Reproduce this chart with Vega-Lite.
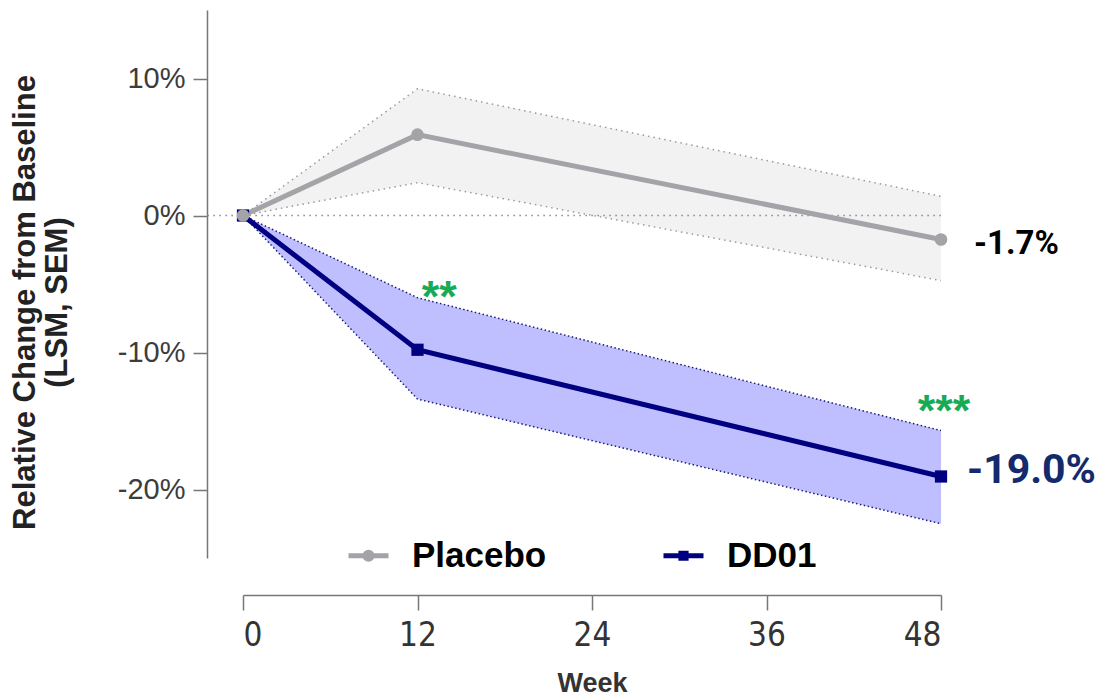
{
  "$schema": "https://vega.github.io/schema/vega-lite/v6.json",
  "width": 698,
  "height": 548,
  "autosize": "none",
  "padding": {"left": 243, "top": 10, "right": 160, "bottom": 141},
  "background": "white",
  "config": {
    "view": {"stroke": null},
    "font": "Liberation Sans",
    "axisX": {
      "offset": 37,
      "domainColor": "#777777",
      "domainWidth": 1.5,
      "tickColor": "#777777",
      "tickWidth": 1.5,
      "tickSize": 15,
      "labelPadding": 9,
      "labelFont": "DejaVu Sans Condensed, Liberation Sans",
      "labelFontSize": 33,
      "labelColor": "#333333",
      "grid": false,
      "titleFont": "Liberation Sans",
      "titleFontSize": 27,
      "titleFontWeight": "bold",
      "titleColor": "#333333",
      "titlePadding": 18
    },
    "axisY": {
      "offset": 36,
      "domainColor": "#777777",
      "domainWidth": 1.5,
      "tickColor": "#777777",
      "tickWidth": 1.5,
      "tickSize": 14,
      "labelPadding": 8,
      "labelFont": "Liberation Sans",
      "labelFontSize": 29,
      "labelColor": "#3c3c3c",
      "grid": false,
      "titleFont": "Liberation Sans",
      "titleFontSize": 31,
      "titleFontWeight": "bold",
      "titleColor": "#222222",
      "titleLineHeight": 32,
      "titlePadding": 44,
      "titleY": 292
    }
  },
  "datasets": {
    "series": [
      {"group": "DD01", "week": 0, "mean": 0, "lo": 0, "hi": 0},
      {"group": "DD01", "week": 12, "mean": -9.8, "lo": -13.4, "hi": -6.0},
      {"group": "DD01", "week": 48, "mean": -19.05, "lo": -22.5, "hi": -15.7},
      {"group": "Placebo", "week": 0, "mean": 0, "lo": 0, "hi": 0},
      {"group": "Placebo", "week": 12, "mean": 5.9, "lo": 2.4, "hi": 9.25},
      {"group": "Placebo", "week": 48, "mean": -1.75, "lo": -4.75, "hi": 1.4}
    ],
    "zero": [{"from": -2.45, "to": 48, "value": 0}],
    "ends": [
      {"group": "Placebo", "week": 48, "value": -1.75, "label": "-1.7%"},
      {"group": "DD01", "week": 48, "value": -19.05, "label": "-19.0%"}
    ],
    "stars": [
      {"week": 13.5, "value": -6.03, "label": "**"},
      {"week": 48.2, "value": -14.33, "label": "***"}
    ]
  },
  "data": {"name": "series"},
  "encoding": {
    "x": {
      "field": "week",
      "type": "quantitative",
      "title": "Week",
      "scale": {"domain": [0, 48], "nice": false, "zero": false},
      "axis": {"values": [0, 12, 24, 36, 48]}
    }
  },
  "layer": [
    {
      "transform": [{"filter": "datum.group === 'Placebo'"}],
      "mark": {"type": "area", "color": "#f2f2f2"},
      "encoding": {
        "y": {
          "field": "lo",
          "type": "quantitative",
          "title": ["Relative Change from Baseline", "(LSM, SEM)"],
          "scale": {"domain": [-25, 15], "nice": false, "zero": false},
          "axis": {"values": [-20, -10, 0, 10], "labelExpr": "datum.value + '%'"}
        },
        "y2": {"field": "hi"}
      }
    },
    {
      "transform": [{"filter": "datum.group === 'DD01'"}],
      "mark": {"type": "area", "color": "#bfbfff"},
      "encoding": {
        "y": {"field": "lo", "type": "quantitative", "title": ["Relative Change from Baseline", "(LSM, SEM)"]},
        "y2": {"field": "hi"}
      }
    },
    {
      "transform": [{"filter": "datum.group === 'Placebo'"}],
      "mark": {"type": "line", "stroke": "#9a9a9a", "strokeWidth": 1.5, "strokeDash": [1.5, 4]},
      "encoding": {"y": {"field": "hi", "type": "quantitative", "title": ["Relative Change from Baseline", "(LSM, SEM)"]}}
    },
    {
      "transform": [{"filter": "datum.group === 'Placebo'"}],
      "mark": {"type": "line", "stroke": "#9a9a9a", "strokeWidth": 1.5, "strokeDash": [1.5, 4]},
      "encoding": {"y": {"field": "lo", "type": "quantitative", "title": ["Relative Change from Baseline", "(LSM, SEM)"]}}
    },
    {
      "transform": [{"filter": "datum.group === 'DD01'"}],
      "mark": {"type": "line", "stroke": "#1c1c7a", "strokeWidth": 1.5, "strokeDash": [1.5, 2.5]},
      "encoding": {"y": {"field": "hi", "type": "quantitative", "title": ["Relative Change from Baseline", "(LSM, SEM)"]}}
    },
    {
      "transform": [{"filter": "datum.group === 'DD01'"}],
      "mark": {"type": "line", "stroke": "#1c1c7a", "strokeWidth": 1.5, "strokeDash": [1.5, 2.5]},
      "encoding": {"y": {"field": "lo", "type": "quantitative", "title": ["Relative Change from Baseline", "(LSM, SEM)"]}}
    },
    {
      "data": {"name": "zero"},
      "mark": {"type": "rule", "stroke": "#888888", "strokeWidth": 1.5, "strokeDash": [1.5, 4.5], "clip": false},
      "encoding": {
        "x": {"field": "from", "type": "quantitative", "title": "Week"},
        "x2": {"field": "to"},
        "y": {"field": "value", "type": "quantitative", "title": ["Relative Change from Baseline", "(LSM, SEM)"]}
      }
    },
    {
      "mark": {"type": "line", "strokeWidth": 5},
      "encoding": {
        "y": {"field": "mean", "type": "quantitative", "title": ["Relative Change from Baseline", "(LSM, SEM)"]},
        "color": {
          "field": "group",
          "type": "nominal",
          "scale": {"domain": ["Placebo", "DD01"], "range": ["#a3a3a8", "#000080"]},
          "legend": {
            "orient": "none",
            "legendX": 103,
            "legendY": 523,
            "direction": "horizontal",
            "title": null,
            "padding": 0,
            "symbolSize": 1600,
            "symbolStrokeWidth": 5,
            "labelFont": "Liberation Sans",
            "labelFontSize": 35,
            "labelFontWeight": "bold",
            "labelColor": "#000000",
            "labelOffset": 21,
            "columnPadding": 106,
            "labelLimit": 400,
            "encode": {
              "symbols": {
                "update": {
                  "shape": {"signal": "datum.value === 'Placebo' ? 'M-1,0H1M0.18,0A0.18,0.18 0 1,1 -0.18,0A0.18,0.18 0 1,1 0.18,0Z' : 'M-1,0H1M-0.13,-0.13H0.13V0.13H-0.13Z'"},
                  "fill": {"signal": "scale('color', datum.value)"},
                  "stroke": {"signal": "scale('color', datum.value)"},
                  "strokeWidth": {"value": 5},
                  "opacity": {"value": 1}
                }
              }
            }
          }
        }
      }
    },
    {
      "transform": [{"filter": "datum.group === 'DD01'"}],
      "mark": {"type": "point", "shape": "square", "filled": true, "color": "#000080", "size": 150, "opacity": 1},
      "encoding": {"y": {"field": "mean", "type": "quantitative", "title": ["Relative Change from Baseline", "(LSM, SEM)"]}}
    },
    {
      "transform": [{"filter": "datum.group === 'Placebo'"}],
      "mark": {"type": "point", "shape": "circle", "filled": true, "color": "#a3a3a8", "size": 160, "opacity": 1},
      "encoding": {"y": {"field": "mean", "type": "quantitative", "title": ["Relative Change from Baseline", "(LSM, SEM)"]}}
    },
    {
      "data": {"name": "ends"},
      "transform": [{"filter": "datum.group === 'Placebo'"}],
      "mark": {"type": "text", "align": "left", "baseline": "middle", "dx": 33, "dy": 5, "font": "Roboto", "fontSize": 33, "fontWeight": "bold", "color": "#000000"},
      "encoding": {
        "y": {"field": "value", "type": "quantitative", "title": ["Relative Change from Baseline", "(LSM, SEM)"]},
        "text": {"field": "label"}
      }
    },
    {
      "data": {"name": "ends"},
      "transform": [{"filter": "datum.group === 'DD01'"}],
      "mark": {"type": "text", "align": "left", "baseline": "middle", "dx": 26, "dy": -5, "font": "Roboto", "fontSize": 41, "fontWeight": "bold", "color": "#142a6c"},
      "encoding": {
        "y": {"field": "value", "type": "quantitative", "title": ["Relative Change from Baseline", "(LSM, SEM)"]},
        "text": {"field": "label"}
      }
    },
    {
      "data": {"name": "stars"},
      "mark": {"type": "text", "align": "center", "baseline": "middle", "font": "Liberation Sans", "fontSize": 45, "fontWeight": "bold", "color": "#17ab56"},
      "encoding": {
        "y": {"field": "value", "type": "quantitative", "title": ["Relative Change from Baseline", "(LSM, SEM)"]},
        "text": {"field": "label"}
      }
    }
  ]
}
